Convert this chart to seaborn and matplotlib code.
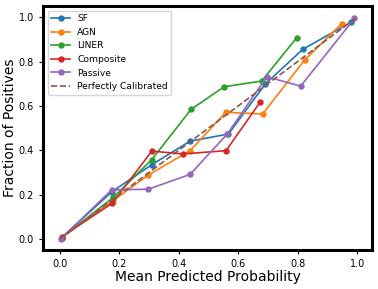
import numpy as np
import pandas as pd
import seaborn as sns
import matplotlib
matplotlib.use("Agg")
import matplotlib.pyplot as plt

# calibration curve points per class (mean predicted prob, fraction of positives)
sf_x = [0.005, 0.175, 0.309, 0.438, 0.567, 0.690, 0.817, 0.979]
sf_y = [0.005, 0.213, 0.335, 0.441, 0.473, 0.697, 0.855, 0.977]

agn_x = [0.005, 0.178, 0.297, 0.438, 0.558, 0.682, 0.823, 0.948]
agn_y = [0.005, 0.172, 0.288, 0.398, 0.571, 0.563, 0.806, 0.971]

liner_x = [0.005, 0.180, 0.309, 0.441, 0.552, 0.679, 0.797]
liner_y = [0.005, 0.188, 0.358, 0.584, 0.686, 0.712, 0.908]

comp_x = [0.006, 0.176, 0.309, 0.413, 0.559, 0.673]
comp_y = [0.010, 0.161, 0.396, 0.383, 0.398, 0.616]

passive_x = [0.002, 0.174, 0.297, 0.438, 0.563, 0.696, 0.810, 0.991]
passive_y = [0.000, 0.221, 0.224, 0.291, 0.473, 0.731, 0.689, 0.994]

series = [
    ("SF", sf_x, sf_y),
    ("AGN", agn_x, agn_y),
    ("LINER", liner_x, liner_y),
    ("Composite", comp_x, comp_y),
    ("Passive", passive_x, passive_y),
]

fig, ax = plt.subplots(figsize=(3.78, 2.89), dpi=100)
fig.subplots_adjust(left=0.114, right=0.984, top=0.979, bottom=0.135)

for i, (name, xs, ys) in enumerate(series):
    df = pd.DataFrame({"x": xs, "y": ys})
    sns.lineplot(data=df, x="x", y="y", sort=False, marker="o", markersize=4.6,
                 markeredgewidth=0, linewidth=1.2, color=f"C{i}", label=name, ax=ax)

ax.plot([0, 1], [0, 1], linestyle="--", color="C5", linewidth=1.2,
        label="Perfectly Calibrated")

ax.set_xlabel("Mean Predicted Probability", fontsize=10, labelpad=0.5)
ax.set_ylabel("Fraction of Positives", fontsize=10, labelpad=1.5)
ax.tick_params(labelsize=7, width=0.8, length=3)
for sp in ax.spines.values():
    sp.set_linewidth(2.2)
    sp.set_color("black")
ax.legend(loc="upper left", fontsize=6.6)
ax.set_xlim(-0.057, 1.05)
ax.set_ylim(-0.05, 1.05)

plt.savefig("out.png", dpi=100)
plt.close()
